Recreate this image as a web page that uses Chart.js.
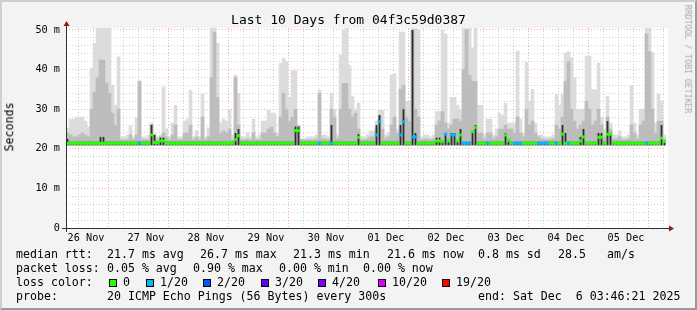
<!DOCTYPE html>
<html>
<head>
<meta charset="utf-8">
<title>Last 10 Days from 04f3c59d0387</title>
<script src="https://cdn.jsdelivr.net/npm/chart.js@4.4.1/dist/chart.umd.min.js"></script>
<style>
  html, body { margin: 0; padding: 0; background: #f3f3f3; }
  #graph { position: relative; width: 697px; height: 310px; overflow: hidden;
    font-family: "DejaVu Sans Mono", monospace; color: #000; }
  #graph canvas { position: absolute; left: 0; top: 0; }
  #frame { position: absolute; left: 0; top: 0; width: 697px; height: 310px; box-sizing: border-box;
    border-style: solid; border-width: 2px; border-color: #cfcfcf #9a9a9a #9a9a9a #cfcfcf; pointer-events: none; }
  .txt { position: absolute; white-space: pre; font-size: 11.6px; line-height: 14px; }
  #title { left: 0; width: 697px; top: 13px; text-align: center; font-size: 13px; line-height: 13px; }
  .rot { position: absolute; white-space: pre; line-height: 1; }
  .sq { position: absolute; width: 6px; height: 6px; border: 1px solid #000; }
</style>
</head>
<body>
<div id="graph">
  <canvas id="chart" width="697" height="310"></canvas>
  <div id="title" class="txt">Last 10 Days from 04f3c59d0387</div>
  <div class="rot" style="left:10px;top:127px;font-size:11.6px;transform:translate(-50%,-50%) rotate(-90deg)">Seconds</div>
  <div class="rot" style="left:688px;top:59px;font-size:8.2px;color:#a8a8a8;transform:translate(-50%,-50%) rotate(90deg)">RRDTOOL / TOBI OETIKER</div>
  <div id="legend"></div>
  <div id="frame"></div>
</div>
<script>
// x axis: hours since 26 Nov 00:00, one bucket = 1.2 h (3 px)
const firstBucketHour = 4;
const bucketHours = 1.2;
const dayLabels = ["26 Nov", "27 Nov", "28 Nov", "29 Nov", "30 Nov", "01 Dec", "02 Dec", "03 Dec", "04 Dec", "05 Dec"];

// smoke: lightest band top (ms)
const lightTop = [
  25.3, 27.5, 27.5, 28, 28, 28, 27, 25.5, 40.4, 46.6,
  51, 51, 51, 51, 51, 36, 31, 43.2, 23, 23,
  23.5, 25.8, 23, 27.9, 37.2, 23, 23, 23.5, 26.5, 24,
  23, 23.5, 35.6, 25, 23, 26.5, 31, 23, 23, 27,
  27.5, 34.8, 23, 24.6, 23, 33.8, 23, 25.3, 51, 51,
  46.7, 26.5, 27.5, 27, 29.7, 23.5, 38.6, 34, 23, 23,
  24, 23, 27.5, 23, 23.5, 27, 27, 29.7, 29, 28.9,
  24, 41.5, 42.9, 42, 33, 39.7, 39.7, 26, 22.5, 22.5,
  23, 23, 23, 23.5, 34.8, 23.5, 23.5, 23, 34, 30,
  23.5, 43.7, 50, 51, 41, 33.2, 30, 31.5, 23, 23,
  23.5, 24.5, 24.5, 27, 29.7, 29.7, 23.5, 24, 38.6, 39,
  25, 49.5, 49.5, 32, 32, 50.5, 50.5, 50, 23, 23.5,
  23.5, 23, 23.5, 29.4, 29.4, 50, 49, 26.5, 33, 33,
  31, 30, 51, 51, 51, 45.5, 51, 31, 31, 23.5,
  27.5, 27.5, 23.5, 25, 29, 28.4, 31.5, 26.5, 26.5, 26.5,
  44.7, 27.5, 24, 41.8, 32, 35, 26.5, 23.5, 23.5, 23,
  23, 23, 23.5, 33.7, 31, 33.7, 44.2, 44.5, 43, 38,
  30, 30, 30, 43.4, 43.4, 35, 34.8, 41.6, 28, 25,
  33.3, 26.5, 23.5, 23.5, 24.5, 23, 23, 23.5, 36, 26.5,
  23.5, 30, 30, 51, 51, 44.3, 26.5, 33.8, 32, 23.5
];
// smoke: middle band top (ms)
const midTop = [
  24, 23.5, 23, 23, 23.5, 24, 23.5, 23, 30, 34.3,
  38, 42.4, 42.4, 36.6, 34, 29, 26, 30, 22.3, 22.3,
  22.3, 23.5, 22.3, 23.5, 37, 22.3, 22.3, 22.3, 26.2, 23.5,
  22.3, 23, 24, 23, 22.3, 23.5, 26, 22.3, 22.3, 24,
  24, 26, 22.3, 23, 22.3, 28, 22.3, 23, 38, 49.5,
  33, 24, 24.5, 24, 25, 22.3, 38, 26, 22.3, 22.3,
  22.5, 22.3, 24, 22.3, 22.3, 24, 24, 25, 25.5, 24,
  23, 28, 34, 30, 27, 28, 30, 25.8, 22.3, 22.3,
  22.3, 22.3, 22.3, 22.5, 34, 22.5, 22.5, 22.3, 30, 28,
  22.5, 30, 36.5, 36.5, 30, 28, 29, 25, 22.3, 22.3,
  22.5, 23, 23, 25, 28.5, 25, 22.5, 23, 26, 28,
  24, 35, 36, 28, 27, 50, 30, 28, 22.3, 22.5,
  22.5, 22.3, 22.5, 26, 27, 29.4, 26.5, 25, 26, 27.5,
  27.5, 27, 40, 50, 38.6, 37, 37, 24, 24, 22.5,
  24, 24, 22.5, 23, 25, 25, 26, 25, 25, 24,
  28, 24, 23, 30, 26, 27, 24, 23, 22.5, 22.3,
  22.3, 22.3, 22.5, 26, 25, 28, 37, 42, 30, 27,
  25, 26, 27, 32, 30, 26, 27, 30, 26, 23,
  28, 25, 22.5, 22.5, 23, 22.3, 22.3, 22.5, 26, 24,
  22.5, 26, 27, 49, 44.5, 30, 24, 27, 27, 22.5
];
// smoke: dense core top (ms), mostly where the median jumps
const darkTop = [
  22.5, 21.8, 21.8, 21.8, 21.8, 21.8, 21.8, 21.8, 21.8, 21.8,
  21.8, 23, 23, 21.8, 21.8, 21.8, 21.8, 21.8, 21.8, 21.8,
  21.8, 21.8, 21.8, 21.8, 21.8, 21.8, 21.8, 21.8, 26, 23.5,
  21.8, 22.8, 22.8, 21.8, 21.8, 21.8, 21.8, 21.8, 21.8, 21.8,
  21.8, 21.8, 21.8, 21.8, 21.8, 21.8, 21.8, 21.8, 21.8, 21.8,
  21.8, 21.8, 21.8, 21.8, 21.8, 21.8, 24, 25, 21.8, 21.8,
  21.8, 21.8, 21.8, 21.8, 21.8, 21.8, 21.8, 21.8, 21.8, 21.8,
  21.8, 21.8, 21.8, 21.8, 21.8, 21.8, 25.6, 25.6, 21.8, 21.8,
  21.8, 21.8, 21.8, 21.8, 21.8, 21.8, 21.8, 21.8, 26, 21.8,
  21.8, 21.8, 21.8, 21.8, 21.8, 21.8, 21.8, 23.7, 21.8, 21.8,
  21.8, 21.8, 21.8, 26, 28.5, 21.8, 21.8, 21.8, 21.8, 21.8,
  21.8, 26, 30, 21.8, 21.8, 50, 24, 21.8, 21.8, 21.8,
  21.8, 21.8, 21.8, 22.8, 22.8, 21.8, 24, 21.8, 24, 24,
  21.8, 25, 21.8, 21.8, 21.8, 24.5, 26, 21.8, 21.8, 21.8,
  21.8, 21.8, 21.8, 21.8, 21.8, 21.8, 24, 21.8, 21.8, 21.8,
  21.8, 21.8, 21.8, 21.8, 21.8, 21.8, 21.8, 21.8, 21.8, 21.8,
  21.8, 21.8, 21.8, 21.8, 21.8, 26, 24, 21.8, 21.8, 21.8,
  21.8, 23, 25, 21.8, 21.8, 21.8, 21.8, 24, 24, 21.8,
  27, 24, 21.8, 21.8, 21.8, 21.8, 21.8, 21.8, 21.8, 21.8,
  21.8, 21.8, 21.8, 21.8, 21.8, 21.8, 21.8, 21.8, 26, 21.8
];
const smokeFloor = 20.9;
// median rtt (ms)
const medianRtt = [
  21.4, 21.4, 21.4, 21.4, 21.4, 21.4, 21.4, 21.4, 21.4, 21.4,
  21.4, 21.4, 21.4, 21.4, 21.4, 21.4, 21.4, 21.4, 21.4, 21.4,
  21.4, 21.4, 21.4, 21.4, 21.4, 21.4, 21.4, 21.4, 23.5, 21.6,
  21.5, 22.0, 22.0, 21.4, 21.4, 21.4, 21.4, 21.4, 21.4, 21.4,
  21.4, 21.4, 21.4, 21.4, 21.4, 21.4, 21.4, 21.4, 21.4, 21.4,
  21.4, 21.4, 21.4, 21.4, 21.4, 21.4, 22.3, 23.3, 21.4, 21.4,
  21.4, 21.4, 21.4, 21.4, 21.4, 21.4, 21.4, 21.4, 21.4, 21.4,
  21.4, 21.4, 21.4, 21.4, 21.4, 21.4, 24.6, 24.6, 21.4, 21.4,
  21.4, 21.4, 21.4, 21.4, 21.4, 21.4, 21.4, 21.4, 21.4, 21.4,
  21.4, 21.4, 21.4, 21.4, 21.4, 21.4, 21.4, 22.9, 21.4, 21.4,
  21.4, 21.4, 21.4, 23.5, 26.8, 21.4, 21.4, 21.4, 21.4, 21.4,
  21.4, 23.5, 26.8, 21.4, 21.4, 23.0, 23.0, 21.4, 21.4, 21.4,
  21.4, 21.4, 21.4, 22.0, 22.0, 21.8, 23.7, 22.0, 23.5, 23.5,
  22.0, 23.5, 21.4, 21.4, 21.4, 24.3, 25.4, 21.4, 21.4, 21.4,
  21.4, 21.4, 21.4, 21.4, 21.4, 21.4, 23.5, 22.2, 21.4, 21.4,
  21.4, 21.4, 21.4, 21.4, 21.4, 21.4, 21.4, 21.4, 21.4, 21.4,
  21.4, 21.4, 21.4, 21.4, 21.4, 23.7, 21.4, 21.4, 21.4, 21.4,
  21.4, 22.0, 23.0, 21.4, 21.4, 21.4, 21.4, 22.9, 22.9, 21.4,
  23.7, 23.7, 21.4, 21.4, 21.4, 21.4, 21.4, 21.4, 21.4, 21.4,
  21.4, 21.4, 21.4, 21.4, 21.4, 21.4, 21.4, 21.4, 22.7, 21.8
];
// lost pings out of 20
const lostPings = [
  0, 0, 0, 0, 0, 0, 0, 0, 0, 0,
  0, 0, 0, 0, 0, 0, 0, 0, 0, 0,
  0, 0, 0, 0, 1, 0, 0, 0, 0, 0,
  0, 0, 0, 0, 0, 0, 0, 0, 0, 0,
  0, 0, 0, 0, 0, 0, 0, 0, 0, 0,
  0, 0, 0, 0, 0, 0, 0, 0, 0, 0,
  0, 0, 0, 0, 0, 0, 0, 0, 0, 0,
  0, 0, 0, 0, 0, 0, 0, 0, 0, 0,
  0, 0, 0, 0, 1, 0, 0, 0, 1, 0,
  0, 0, 0, 0, 0, 0, 0, 0, 0, 0,
  0, 0, 0, 1, 1, 0, 0, 0, 0, 0,
  0, 1, 1, 0, 0, 1, 1, 0, 0, 0,
  0, 0, 0, 0, 0, 0, 1, 0, 1, 1,
  0, 0, 1, 1, 1, 0, 0, 0, 0, 0,
  1, 0, 0, 0, 0, 0, 0, 0, 0, 1,
  1, 1, 0, 0, 0, 0, 0, 1, 1, 1,
  1, 0, 0, 1, 0, 0, 0, 1, 0, 0,
  0, 0, 0, 0, 0, 0, 0, 0, 0, 0,
  0, 0, 0, 0, 0, 0, 0, 0, 0, 0,
  0, 0, 0, 1, 0, 0, 0, 0, 0, 0
];

// legend values
const lossSteps = [0, 1, 2, 3, 4, 10, 19];
const lossLabels = ["0", "1/20", "2/20", "3/20", "4/20", "10/20", "19/20"];
const lossColors = ["#26ff00", "#00b8ff", "#0059ff", "#5e00ff", "#7e00ff", "#dd00ff", "#ff0000"];
const rttStats = ["21.7 ms avg", "26.7 ms max", "21.3 ms min", "21.6 ms now", "0.8 ms sd", "28.5", "am/s"];
const lossStats = ["0.05 % avg", "0.90 % max", "0.00 % min", "0.00 % now"];
const probeText = "20 ICMP Echo Pings (56 Bytes) every 300s";
const endText = "end: Sat Dec  6 03:46:21 2025";

// legend layout
const rowTop = [247, 261, 275, 289];
const rttStatX = [107, 200, 293, 387, 478, 558, 607];
const lossStatX = [107, 193, 279, 363];
const swatchX = [109, 146, 203, 261, 318, 378, 442];

const minorGrid = "rgba(150,150,150,0.45)";
const majorGrid = "rgba(255,90,90,0.5)";

function lossColor(n) {
  let c = lossColors[0];
  lossSteps.forEach((s, k) => { if (n >= s) c = lossColors[k]; });
  return c;
}

const bucketTime = medianRtt.map((_, i) => firstBucketHour + (i + 0.5) * bucketHours);
const smoke = top => top.map((v, i) => ({ x: bucketTime[i], y: [smokeFloor, v] }));

const xGrid = [];
for (let h = 6; h <= 240; h += 6) xGrid.push(h);
const yGrid = [];
for (let v = 0; v <= 50; v += 2) yGrid.push(v);

// legend
const legend = document.getElementById("legend");
function put(x, y, text) {
  const d = document.createElement("div");
  d.className = "txt";
  d.style.left = x + "px";
  d.style.top = y + "px";
  d.textContent = text;
  legend.appendChild(d);
}
put(16, rowTop[0], "median rtt:");
rttStats.forEach((t, i) => put(rttStatX[i], rowTop[0], t));
put(16, rowTop[1], "packet loss:");
lossStats.forEach((t, i) => put(lossStatX[i], rowTop[1], t));
put(16, rowTop[2], "loss color:");
lossLabels.forEach((t, i) => {
  const sq = document.createElement("div");
  sq.className = "sq";
  sq.style.left = swatchX[i] + "px";
  sq.style.top = (rowTop[2] + 4) + "px";
  sq.style.background = lossColors[i];
  legend.appendChild(sq);
  put(swatchX[i] + 14, rowTop[2], t);
});
put(16, rowTop[3], "probe:");
put(107, rowTop[3], probeText);
put(478, rowTop[3], endText);

const canvasBg = {
  id: "canvasBg",
  beforeDraw(chart) {
    const { ctx, chartArea: a } = chart;
    ctx.save();
    ctx.fillStyle = "#ffffff";
    ctx.fillRect(a.left, a.top, a.right - a.left + 2, a.bottom - a.top);
    ctx.restore();
  }
};

const axisArrows = {
  id: "axisArrows",
  afterDraw(chart) {
    const { ctx, chartArea: a } = chart;
    const x0 = a.left + 0.5, y0 = a.bottom + 0.5;
    ctx.save();
    ctx.strokeStyle = "#303030";
    ctx.lineWidth = 1;
    ctx.beginPath();
    ctx.moveTo(x0, a.bottom + 4); ctx.lineTo(x0, a.top - 3);
    ctx.moveTo(a.left - 4, y0); ctx.lineTo(a.right + 4, y0);
    ctx.stroke();
    ctx.fillStyle = "#8c1c1c";
    ctx.beginPath();
    ctx.moveTo(x0, a.top - 7); ctx.lineTo(x0 - 3, a.top - 2); ctx.lineTo(x0 + 3, a.top - 2);
    ctx.closePath(); ctx.fill();
    ctx.beginPath();
    ctx.moveTo(a.right + 8, y0); ctx.lineTo(a.right + 3, y0 - 3); ctx.lineTo(a.right + 3, y0 + 3);
    ctx.closePath(); ctx.fill();
    ctx.restore();
  }
};

Chart.defaults.font.family = "'DejaVu Sans Mono', monospace";
Chart.defaults.color = "#000";

const barBase = { type: "bar", grouped: false, barPercentage: 1, categoryPercentage: 1, borderWidth: 0 };

new Chart(document.getElementById("chart"), {
  type: "bar",
  data: {
    datasets: [
      {
        type: "line",
        label: "median rtt",
        data: medianRtt.map((v, i) => ({ x: bucketTime[i], y: v })),
        showLine: false,
        pointStyle: "line",
        pointRadius: 1.7,
        pointHoverRadius: 1.7,
        pointBorderWidth: 3,
        pointHoverBorderWidth: 3,
        pointBorderColor: c => lossColor(lostPings[c.dataIndex]),
        order: 0
      },
      { ...barBase, label: "dense", data: smoke(darkTop), backgroundColor: "#2e2e2e", barPercentage: 0.6, inflateAmount: 0, order: 1 },
      { ...barBase, label: "inner", data: smoke(midTop), backgroundColor: "#bdbdbd", order: 2 },
      { ...barBase, label: "outer", data: smoke(lightTop), backgroundColor: "#dcdcdc", order: 3 }
    ]
  },
  options: {
    responsive: false,
    animation: false,
    devicePixelRatio: 1,
    layout: { padding: { left: 0, right: 31, top: 28, bottom: 0 } },
    plugins: { legend: { display: false }, tooltip: { enabled: false } },
    scales: {
      x: {
        type: "linear",
        min: firstBucketHour,
        max: firstBucketHour + 240,
        offset: false,
        z: 1,
        afterBuildTicks: s => { s.ticks = xGrid.map(v => ({ value: v })); },
        afterFit: s => { s.height = 82; },
        grid: { color: c => (c.tick && c.tick.value % 24 === 0) ? majorGrid : minorGrid, lineWidth: 1, drawTicks: false },
        border: { display: false, dash: [1, 2] },
        ticks: {
          autoSkip: false, maxRotation: 0, padding: 4, font: { size: 10.2 },
          callback: v => (v % 24 === 12) ? dayLabels[(v - 12) / 24] : ""
        }
      },
      y: {
        min: 0,
        max: 50.5,
        z: 1,
        afterBuildTicks: s => { s.ticks = yGrid.map(v => ({ value: v })); },
        afterFit: s => { s.width = 66; },
        grid: { color: c => (c.tick && c.tick.value % 10 === 0) ? majorGrid : minorGrid, lineWidth: 1, drawTicks: false },
        border: { display: false, dash: [1, 2] },
        ticks: {
          autoSkip: false, padding: 6, font: { size: 10.2 },
          callback: v => (v % 10 !== 0) ? "" : (v === 0 ? "0" : v + " m")
        }
      }
    }
  },
  plugins: [canvasBg, axisArrows]
});
</script>
</body>
</html>
